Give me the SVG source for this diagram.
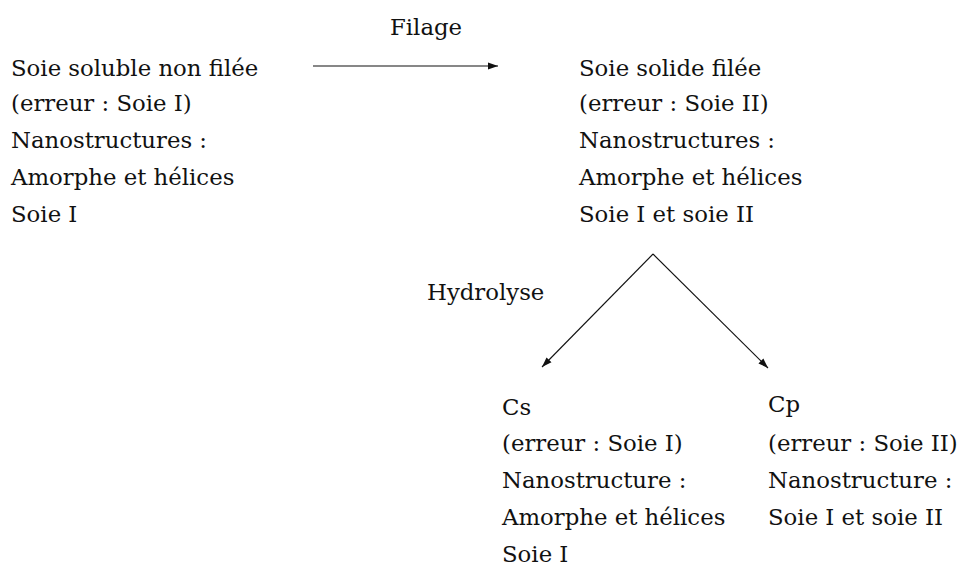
<svg xmlns="http://www.w3.org/2000/svg" width="960" height="567" viewBox="0 0 960 567">
<defs>
<style>
text{font-family:"DejaVu Serif","Liberation Serif",serif;font-size:22.8px;fill:#111;}
.c{stroke:#111;stroke-width:1.1;fill:none;}
</style>
<marker id="ah" viewBox="0 0 10 10" refX="10" refY="5" markerWidth="10" markerHeight="10" markerUnits="userSpaceOnUse" orient="auto">
<path d="M0,1.5 L10,5 L0,8.5 Z" fill="#111"/>
</marker>
</defs>
<rect width="960" height="567" fill="#fff"/>
<g id="connectors">
<line class="c" x1="313" y1="66" x2="498" y2="66" marker-end="url(#ah)"/>
<line class="c" x1="653" y1="254" x2="542" y2="367" marker-end="url(#ah)"/>
<line class="c" x1="653" y1="254" x2="768" y2="368" marker-end="url(#ah)"/>
<text x="390" y="35">Filage</text>
<text x="427" y="300">Hydrolyse</text>
</g>
<g id="soluble">
<text x="11" y="76">Soie soluble non filée</text>
<text x="11" y="111">(erreur : Soie I)</text>
<text x="11" y="148">Nanostructures :</text>
<text x="11" y="185">Amorphe et hélices</text>
<text x="11" y="222">Soie I</text>
</g>
<g id="solide">
<text x="579" y="76">Soie solide filée</text>
<text x="579" y="111">(erreur : Soie II)</text>
<text x="579" y="148">Nanostructures :</text>
<text x="579" y="185">Amorphe et hélices</text>
<text x="579" y="222">Soie I et soie II</text>
</g>
<g id="cs">
<text x="502" y="415">Cs</text>
<text x="502" y="451">(erreur : Soie I)</text>
<text x="502" y="488">Nanostructure :</text>
<text x="502" y="525">Amorphe et hélices</text>
<text x="502" y="562">Soie I</text>
</g>
<g id="cp">
<text x="768" y="412">Cp</text>
<text x="768" y="451">(erreur : Soie II)</text>
<text x="768" y="488">Nanostructure :</text>
<text x="768" y="525">Soie I et soie II</text>
</g>
</svg>
